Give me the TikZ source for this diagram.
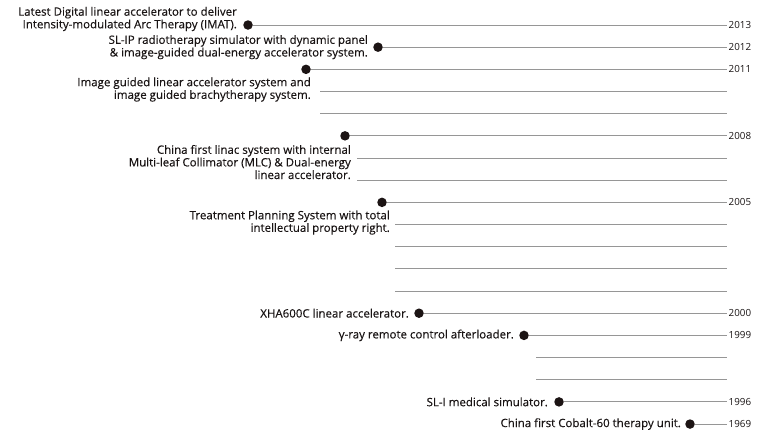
\documentclass[tikz,border=0pt]{standalone}
\usepackage{fontspec}
\setmainfont{Open Sans}
\newfontfamily\eventFont[FakeBold=0.3]{Open Sans}
\usetikzlibrary{positioning}
\definecolor{lineColor}{RGB}{150,150,150}
\definecolor{dotColor}{RGB}{28,20,20}
\definecolor{textColor}{RGB}{25,20,20}
\tikzstyle{timeline} = [x = 1pt, y = -1pt]
\tikzstyle{eventDot} = [circle, fill=dotColor, inner sep=0pt, minimum size=9.5pt]
\tikzstyle{yearLine} = [color=lineColor, line width=0.9pt]
\tikzstyle{yearText} = [anchor=west, inner sep=1.5pt, text=textColor, font=\fontsize{9.8}{11}\selectfont]
\tikzstyle{eventText} = [align=right, inner sep=0pt, text=textColor, font=\eventFont\fontsize{11.5}{12.6}\selectfont]
\newcommand{\rowStep}{22.17}
\newcommand{\lineEnd}{727}
\newcommand{\milestone}[4]{
  \node [eventDot] (#4) at (#2, {25 + \rowStep * #1}) {};
  \node [yearText] (#4Year) at (\lineEnd, {25 + \rowStep * #1}) {#3};
  \draw [yearLine] (#4) -- (#4Year);
}
\newcommand{\blankLines}[3]{
  \foreach \row in {#1,...,#2} {
    \coordinate (blankStart\row) at (#3, {25 + \rowStep * \row});
    \coordinate (blankEnd\row) at (\lineEnd, {25 + \rowStep * \row});
    \draw [yearLine] (blankStart\row) -- (blankEnd\row);
  }
}

\begin{document}
\begin{tikzpicture}[timeline]
  \useasboundingbox (0, 0) rectangle (769, 434);

  \milestone{0}{248}{2013}{y2013}
  \milestone{1}{378}{2012}{y2012}
  \milestone{2}{306}{2011}{y2011}
  \blankLines{3}{4}{320}
  \milestone{5}{345}{2008}{y2008}
  \blankLines{6}{7}{357}
  \milestone{8}{382}{2005}{y2005}
  \blankLines{9}{12}{395}
  \milestone{13}{419}{2000}{y2000}
  \milestone{14}{524}{1999}{y1999}
  \blankLines{15}{16}{536}
  \milestone{17}{559}{1996}{y1996}
  \milestone{18}{690}{1969}{y1969}

  \node [eventText, left = 6pt of y2013, yshift = 6pt] (t2013)
    {Latest Digital linear accelerator to deliver\\Intensity-modulated Arc Therapy (IMAT).};
  \node [eventText, left = 5pt of y2012] (t2012)
    {SL-IP radiotherapy simulator with dynamic panel\\\& image-guided dual-energy accelerator system.};
  \node [eventText, below left = 3pt and -5pt of y2011.south] (t2011)
    {Image guided linear accelerator system and\\image guided brachytherapy system.};
  \node [eventText, below left = 4pt and -6pt of y2008.south] (t2008)
    {China first linac system with internal\\Multi-leaf Collimator (MLC) \& Dual-energy\\linear accelerator.};
  \node [eventText, below left = 3pt and -8pt of y2005.south] (t2005)
    {Treatment Planning System with total\\intellectual property right.};
  \node [eventText, left = 5pt of y2000] (t2000) {XHA600C linear accelerator.};
  \node [eventText, left = 5pt of y1999] (t1999) {γ-ray remote control afterloader.};
  \node [eventText, left = 6pt of y1996] (t1996) {SL-I medical simulator.};
  \node [eventText, left = 4pt of y1969] (t1969) {China first Cobalt-60 therapy unit.};
\end{tikzpicture}
\end{document}
